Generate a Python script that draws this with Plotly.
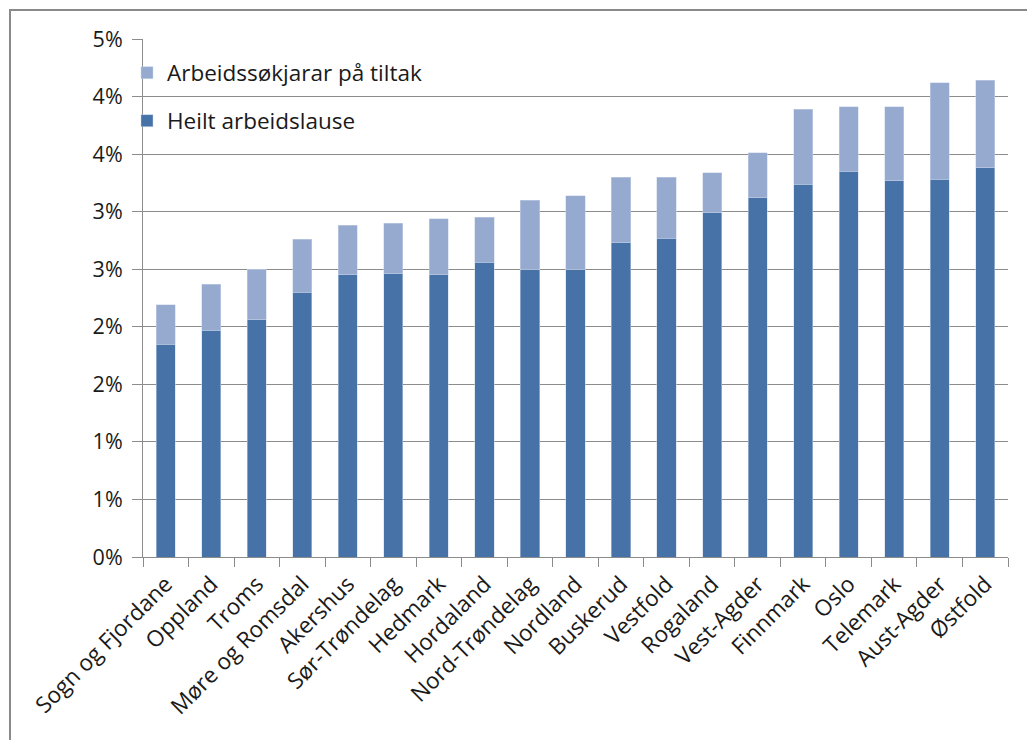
import plotly.graph_objects as go

# ---- data (percent) ----
fylke = ["Sogn og Fjordane", "Oppland", "Troms", "Møre og Romsdal", "Akershus",
         "Sør-Trøndelag", "Hedmark", "Hordaland", "Nord-Trøndelag", "Nordland",
         "Buskerud", "Vestfold", "Rogaland", "Vest-Agder", "Finnmark", "Oslo",
         "Telemark", "Aust-Agder", "Østfold"]
heilt_arbeidslause = [1.85, 1.97, 2.06, 2.30, 2.45, 2.46, 2.45, 2.56, 2.50, 2.50,
                      2.73, 2.77, 2.99, 3.12, 3.24, 3.35, 3.27, 3.28, 3.38]
paa_tiltak = [0.34, 0.40, 0.44, 0.46, 0.43, 0.44, 0.49, 0.39, 0.60, 0.64,
              0.57, 0.53, 0.35, 0.39, 0.65, 0.56, 0.64, 0.84, 0.76]
tick_values = [0, 0.5, 1.0, 1.5, 2.0, 2.5, 3.0, 3.5, 4.0, 4.5]
tick_labels = ["0%", "1%", "1%", "2%", "2%", "3%", "3%", "4%", "4%", "5%"]

FONT = "Open Sans"
DARK = "#4672A8"
LIGHT = "#96AAD0"
GRID = "#8c8c8c"
OFF = 8  # default body margin of the html page

fig = go.Figure()
fig.add_trace(go.Bar(x=fylke, y=heilt_arbeidslause, name="Heilt arbeidslause",
                     marker=dict(color=DARK, line=dict(color="#c9d6ea", width=0.5)),
                     legend="legend2"))
fig.add_trace(go.Bar(x=fylke, y=paa_tiltak, name="Arbeidssøkjarar på tiltak",
                     marker=dict(color=LIGHT, line=dict(color="#c9d6ea", width=0.5)),
                     legend="legend"))

W, H = 1035 - OFF, 740 - OFF
L, R, T, B = 143 - OFF, 27, 39 - OFF, 183
pw, ph = W - L - R, H - T - B

def px_x(px):
    return (px - OFF - L) / pw

def px_y(py):
    return (H - B - (py - OFF)) / ph

fig.update_layout(
    width=W, height=H,
    margin=dict(l=L, r=R, t=T, b=B, autoexpand=False),
    barmode="stack",
    bargap=0.58,
    plot_bgcolor="white",
    paper_bgcolor="white",
    font=dict(family=FONT, size=22, color="#1a1a1a"),
    legend=dict(x=px_x(127), y=px_y(73), xanchor="left", yanchor="middle",
                bgcolor="rgba(0,0,0,0)", font=dict(size=22.5)),
    legend2=dict(x=px_x(127), y=px_y(121), xanchor="left", yanchor="middle",
                 bgcolor="rgba(0,0,0,0)", font=dict(size=22.5)),
    showlegend=True,
    shapes=[dict(type="rect", xref="paper", yref="paper",
                 x0=px_x(10), x1=px_x(1045), y0=px_y(750), y1=px_y(10),
                 line=dict(color="#8a8a8a", width=2), fillcolor="rgba(0,0,0,0)",
                 layer="below")],
)
fig.update_xaxes(
    type="category",
    showline=True, linecolor=GRID, linewidth=1,
    ticks="outside", tickson="boundaries", ticklen=9, tickcolor=GRID,
    tickangle=-45, tickfont=dict(family=FONT, size=22.5, color="#1a1a1a"),
    ticklabelstandoff=4,
    showgrid=False,
)
fig.update_yaxes(
    range=[0, 4.5],
    tickvals=tick_values, ticktext=tick_labels,
    showline=True, linecolor=GRID, linewidth=1,
    ticks="outside", ticklen=10, tickcolor=GRID,
    showgrid=True, gridcolor=GRID, gridwidth=1,
    zeroline=False,
    tickfont=dict(family=FONT, size=21.5, color="#1a1a1a"),
    ticklabelstandoff=5,
)

fig.write_html("out.html")
